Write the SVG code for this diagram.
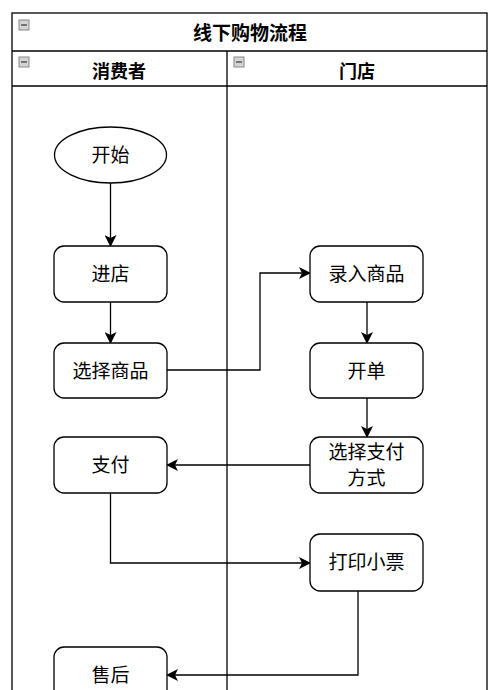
<svg xmlns="http://www.w3.org/2000/svg" width="500" height="690" viewBox="0 0 500 690">
<style>
.frame{fill:none;stroke:#000;stroke-width:1.3}
.node{fill:#fff;stroke:#000;stroke-width:1.3}
.t{font-family:"Noto Sans CJK SC","Noto Sans",sans-serif;font-size:19px;fill:#000;text-anchor:middle}
.h{font-family:"Noto Sans CJK SC","Noto Sans",sans-serif;font-size:18px;font-weight:bold;fill:#000;text-anchor:middle}
.ht{font-family:"Noto Sans CJK SC","Noto Sans",sans-serif;font-size:19px;font-weight:bold;fill:#000;text-anchor:middle}
.ic{fill:#d4d4d4;stroke:#888;stroke-width:1}
.icl{stroke:#333;stroke-width:1.2}
.c{fill:none;stroke:#000;stroke-width:1.3}
</style>
<defs>
<marker id="arr" markerWidth="12" markerHeight="12" refX="10" refY="6" orient="auto" markerUnits="userSpaceOnUse">
<path d="M0,0 L12,6 L0,12 L3,6 Z" fill="#000"/>
</marker>
</defs>
<rect width="500" height="690" fill="#fff"/>
<g id="pool">
<rect class="frame" x="12" y="13" width="475" height="700"/>
<line class="frame" x1="12" y1="51" x2="487" y2="51"/>
<line class="frame" x1="12" y1="86" x2="487" y2="86"/>
<line class="frame" x1="227" y1="51" x2="227" y2="700"/>
<rect class="ic" x="19" y="20" width="10" height="10"/><line class="icl" x1="21" y1="25" x2="27" y2="25"/>
<rect class="ic" x="19" y="57" width="10" height="10"/><line class="icl" x1="21" y1="62" x2="27" y2="62"/>
<rect class="ic" x="234" y="57" width="10" height="10"/><line class="icl" x1="236" y1="62" x2="242" y2="62"/>
<text class="ht" x="250" y="39.5">线下购物流程</text>
<text class="h" x="119" y="78">消费者</text>
<text class="h" x="357" y="78">门店</text>
</g>
<g id="edges">
<path class="c" d="M110.5,183 L110.5,245" marker-end="url(#arr)"/>
<path class="c" d="M110.5,302 L110.5,342" marker-end="url(#arr)"/>
<path class="c" d="M167,370 L260,370 L260,273 L309,273" marker-end="url(#arr)"/>
<path class="c" d="M367,302 L367,342" marker-end="url(#arr)"/>
<path class="c" d="M367,398 L367,436" marker-end="url(#arr)"/>
<path class="c" d="M310,465 L168,465" marker-end="url(#arr)"/>
<path class="c" d="M110.5,493 L110.5,563 L309,563" marker-end="url(#arr)"/>
<path class="c" d="M358,591 L358,675 L168,675" marker-end="url(#arr)"/>
</g>
<g id="start"><ellipse class="node" cx="110.5" cy="155" rx="56" ry="28"/><text class="t" x="110.5" y="161.5">开始</text></g>
<g id="enter"><rect class="node" x="54" y="246" width="113" height="56" rx="10"/><text class="t" x="110.5" y="280.5">进店</text></g>
<g id="choose"><rect class="node" x="54" y="343" width="113" height="55" rx="10"/><text class="t" x="110.5" y="377.5">选择商品</text></g>
<g id="pay"><rect class="node" x="54" y="437" width="113" height="56" rx="10"/><text class="t" x="110.5" y="471.5">支付</text></g>
<g id="after"><rect class="node" x="54" y="647" width="113" height="56" rx="10"/><text class="t" x="110.5" y="681.5">售后</text></g>
<g id="input"><rect class="node" x="310" y="246" width="113" height="56" rx="10"/><text class="t" x="366.5" y="280.5">录入商品</text></g>
<g id="bill"><rect class="node" x="310" y="343" width="113" height="55" rx="10"/><text class="t" x="366.5" y="377.5">开单</text></g>
<g id="paymethod"><rect class="node" x="310" y="437" width="113" height="56" rx="10"/><text class="t" x="366.5" y="459">选择支付</text><text class="t" x="366.5" y="484.5">方式</text></g>
<g id="print"><rect class="node" x="310" y="534" width="113" height="57" rx="10"/><text class="t" x="366.5" y="569">打印小票</text></g>
</svg>
